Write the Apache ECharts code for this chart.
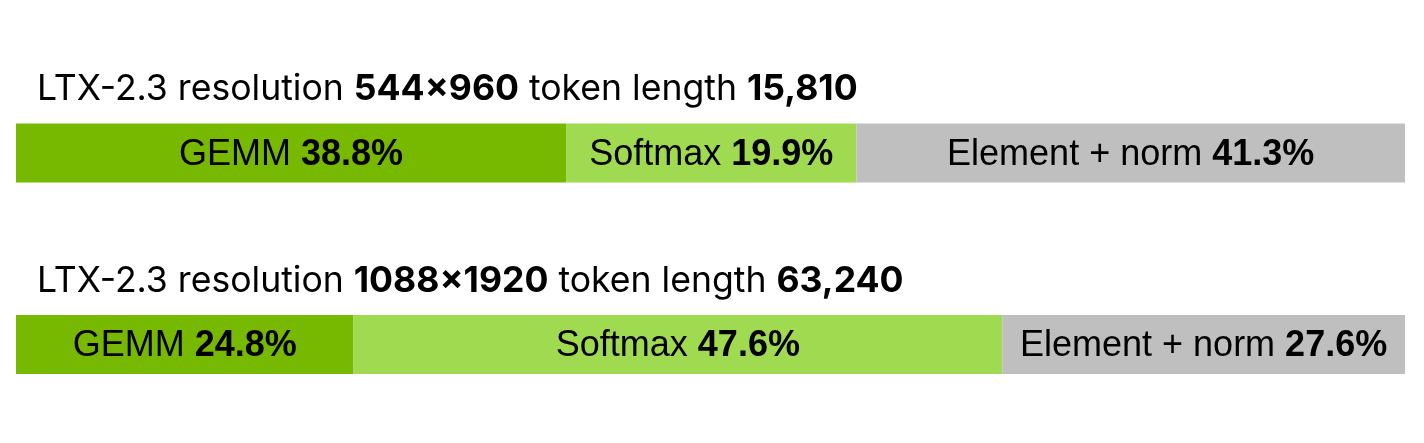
<!DOCTYPE html>
<html>
<head>
<meta charset="utf-8">
<script src="https://cdn.jsdelivr.net/npm/echarts@6/dist/echarts.min.js"></script>
<style>html,body{margin:0;padding:0;background:#fff}#c{width:1424px;height:443px}</style>
</head>
<body>
<div id="c"></div>
<script>
// Data
const categories = ['544×960', '1088×1920'];
const resolutions = ['544×960', '1088×1920'];
const tokenLengths = ['15,810', '63,240'];
// bar extents (share of the full bar, %)
const gemmWidth = [39.6, 24.3];
const softmaxWidth = [20.9, 46.7];
const elementWidth = [39.5, 29.0];
// printed labels
const gemmLabel = ['38.8%', '24.8%'];
const softmaxLabel = ['19.9%', '47.6%'];
const elementLabel = ['41.3%', '27.6%'];
const seriesNames = ['GEMM', 'Softmax', 'Element + norm'];

const chart = echarts.init(document.getElementById('c'), null, {renderer: 'canvas'});
const labelFont = 'Liberation Sans, Arial, sans-serif';
const titleFont = 'Inter, sans-serif';

function mkSeries(name, data, labels, color) {
  return {
    name: name, type: 'bar', stack: 'all', data: data, barWidth: 59,
    itemStyle: {color: color},
    label: {
      show: true, position: 'inside', offset: [0, 2],
      formatter: p => '{n|' + name + '\u00a0}{b|' + labels[p.dataIndex] + '}',
      rich: {
        n: {fontFamily: labelFont, fontSize: 36, fontWeight: 'normal', color: '#000'},
        b: {fontFamily: labelFont, fontSize: 36, fontWeight: 'bold', color: '#000'}
      }
    },
    silent: true
  };
}

const titleTops = [71, 263];
chart.setOption({
  animation: false,
  title: categories.map((c, i) => ({
    left: 37, top: titleTops[i], padding: 0,
    text: '{n|LTX-2.3 resolution\u00a0}{b|' + resolutions[i] + '}{n|\u00a0token length\u00a0}{b|' + tokenLengths[i] + '}',
    textStyle: {
      fontWeight: 'normal',
      rich: {
        n: {fontFamily: titleFont, fontSize: 35.6, fontWeight: 'normal', color: '#000'},
        b: {fontFamily: titleFont, fontSize: 35.6, fontWeight: 'bold', color: '#000'}
      }
    }
  })),
  grid: {left: 16, right: 19, top: 57.25, bottom: 2.75},
  xAxis: {type: 'value', min: 0, max: 100, show: false},
  yAxis: {type: 'category', data: categories, inverse: true, show: false},
  series: [
    mkSeries(seriesNames[0], gemmWidth, gemmLabel, '#76B900'),
    mkSeries(seriesNames[1], softmaxWidth, softmaxLabel, '#A0DA50'),
    mkSeries(seriesNames[2], elementWidth, elementLabel, '#BFBFBF')
  ]
});
</script>
</body>
</html>
